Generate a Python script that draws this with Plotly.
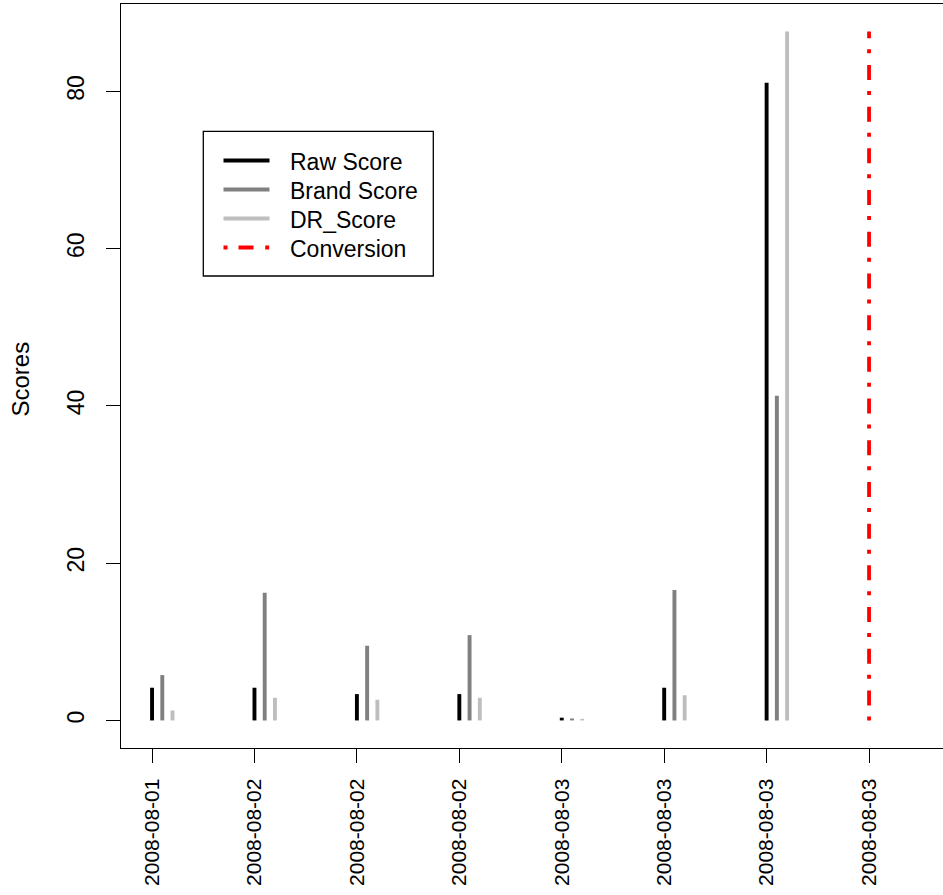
import plotly.graph_objects as go

# ---- data ----
dates = ["2008-08-01", "2008-08-02", "2008-08-02", "2008-08-02",
         "2008-08-03", "2008-08-03", "2008-08-03", "2008-08-03"]
positions = [1, 2, 3, 4, 5, 6, 7, 8]
raw_score = [4.16, 4.16, 3.35, 3.35, 0.35, 4.16, 81.1]
brand_score = [5.77, 16.24, 9.5, 10.85, 0.25, 16.6, 41.3]
dr_score = [1.27, 2.88, 2.63, 2.88, 0.2, 3.2, 87.6]
conversion_pos = [8]
y_ticks = [0, 20, 40, 60, 80]

series_names = ["Raw Score", "Brand Score", "DR_Score", "Conversion"]
series_colors = ["#000000", "#808080", "#BEBEBE", "#FF0000"]
offsets = [0.0, 0.1, 0.2]

W, H = 943, 895
ML, MR, MT, MB = 121, 0, 4, 147
FONT = "Liberation Sans, Arial, Helvetica, sans-serif"
DOTDASH = "4px,11px,15px,11.7px"

ymax = max(max(raw_score), max(brand_score), max(dr_score))
yrange = [-0.04 * ymax, 1.04 * ymax]
xrange_ = [0.697, 8.722]


def hlines(xs, ys, off):
    X, Y = [], []
    for x, y in zip(xs, ys):
        X += [x + off, x + off, None]
        Y += [0, y, None]
    return X, Y


fig = go.Figure()
for vals, name, col, off in zip([raw_score, brand_score, dr_score],
                                series_names[:3], series_colors[:3], offsets):
    X, Y = hlines(positions[:len(vals)], vals, off)
    fig.add_trace(go.Scatter(x=X, y=Y, mode="lines", name=name,
                             line=dict(color=col, width=3.9),
                             showlegend=False, hoverinfo="skip"))

# conversion line
X, Y = hlines(conversion_pos, [ymax], 0.0)
fig.add_trace(go.Scatter(x=X, y=Y, mode="lines", name="Conversion",
                         line=dict(color="#FF0000", width=3.8, dash=DOTDASH),
                         showlegend=False, hoverinfo="skip"))

# ---- custom legend (pixel positions -> paper) ----
pw = W - ML - MR
ph = H - MT - MB


def px(xp):
    return (xp - ML) / pw


def py(yp):
    return (H - MB - yp) / ph


shapes = []
shapes.append(dict(type="rect", xref="paper", yref="paper",
                   x0=px(203.3), x1=px(433.3), y0=py(276), y1=py(131.3),
                   line=dict(color="black", width=1.3), fillcolor="white",
                   layer="above"))
rows = [160.5, 189.5, 218.5, 247.5]
annotations = []
for name, col, ry in zip(series_names, series_colors, rows):
    ln = dict(color=col, width=3.9)
    if name == "Conversion":
        ln = dict(color=col, width=3.8, dash=DOTDASH)
    shapes.append(dict(type="line", xref="paper", yref="paper",
                       x0=px(223.5), x1=px(269.5), y0=py(ry), y1=py(ry),
                       line=ln, layer="above"))
    annotations.append(dict(xref="paper", yref="paper", x=px(288), y=py(ry + 1.2),
                            xanchor="left", yanchor="middle", text=name,
                            showarrow=False,
                            font=dict(family=FONT, size=23, color="black")))

# y axis title
annotations.append(dict(xref="paper", yref="paper", x=px(19.5), y=py(379),
                        xanchor="center", yanchor="middle", text="Scores",
                        textangle=-90, showarrow=False,
                        font=dict(family=FONT, size=24, color="black")))

fig.update_layout(
    width=W, height=H,
    margin=dict(l=ML, r=MR, t=MT, b=MB, pad=0),
    paper_bgcolor="white", plot_bgcolor="white",
    shapes=shapes, annotations=annotations,
    showlegend=False,
    font=dict(family=FONT, size=21, color="black"),
    xaxis=dict(range=xrange_, tickmode="array", tickvals=positions, ticktext=dates,
               tickangle=-90, ticks="outside", ticklen=14, tickwidth=1.3,
               tickcolor="black", showline=True, linecolor="black", linewidth=1.3,
               mirror=True, showgrid=False, zeroline=False,
               tickfont=dict(family=FONT, size=21, color="black"),
               ticklabelstandoff=7),
    yaxis=dict(range=yrange, tickmode="array", tickvals=y_ticks,
               tickangle=-90, ticks="outside", ticklen=14, tickwidth=1.3,
               tickcolor="black", showline=True, linecolor="black", linewidth=1.3,
               mirror=False, showgrid=False, zeroline=False,
               tickfont=dict(family=FONT, size=23, color="black"),
               ticklabelstandoff=13),
)

fig.write_html("out.html")
